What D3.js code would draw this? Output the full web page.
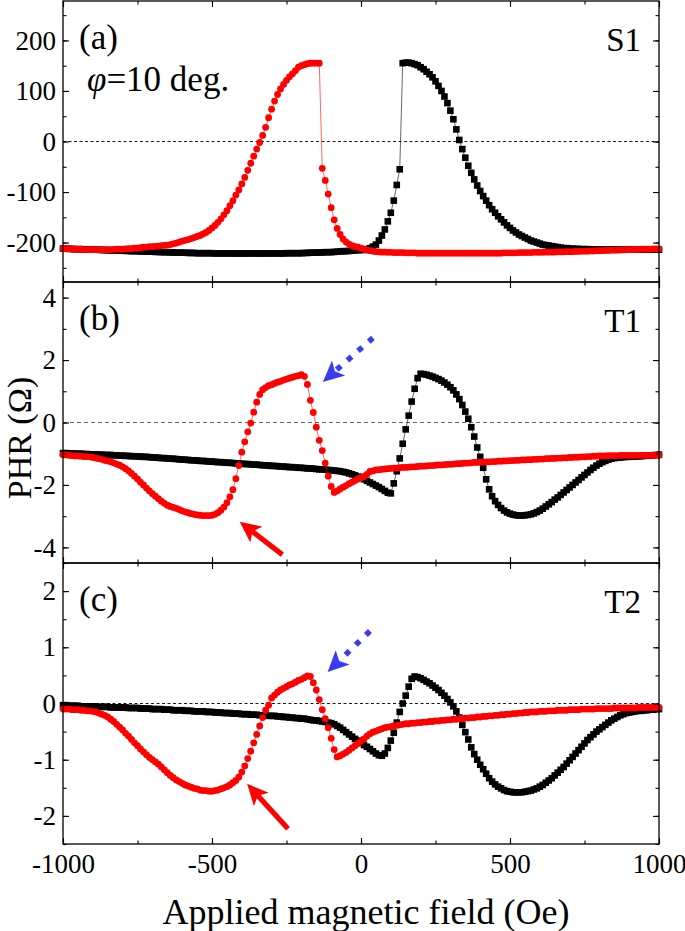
<!DOCTYPE html>
<html><head><meta charset="utf-8">
<script src="https://cdn.jsdelivr.net/npm/d3@7"></script>
<style>
body{margin:0;background:#fff}
svg{display:block}
svg text{font-family:'Liberation Serif','Times New Roman','DejaVu Serif',serif !important;fill:#000}
</style></head>
<body><svg id="chart" width="685" height="931"></svg>
<script>
// ---------------- DATA ----------------
// Applied field grid (Oe), 10 Oe steps from -1000 to 1000
const field = d3.range(-1000, 1001, 10);

const xTicks = [-1000, -500, 0, 500, 1000];
const aTicks = [-200, -100, 0, 100, 200];
const bTicks = [-4, -2, 0, 2, 4];
const cTicks = [-2, -1, 0, 1, 2];
const panelLabels = ["(a)", "(b)", "(c)"];
const sampleLabels = ["S1", "T1", "T2"];

// (a) S1 : black squares
const aBlack = [
-212,-212,-212.5,-212.5,-213,-213,-213,-213.5,-213.5,-214,
-214,-214,-214.5,-214.5,-215,-215,-215.5,-215.5,-216,-216,
-216,-216.5,-216.5,-217,-217,-217,-217.5,-217.5,-218,-218,
-218,-218.5,-218.5,-219,-219,-219,-219.5,-219.5,-220,-220,
-220,-220,-220.5,-220.5,-220.5,-221,-221,-221,-221,-221,
-221,-221.5,-221.5,-221.5,-221.5,-221.5,-221.5,-221.5,-221.5,-221.5,
-221.5,-221.5,-221.5,-221.5,-221.5,-221.5,-221.5,-221.5,-221.5,-221.5,
-221.5,-221.5,-221.5,-221.5,-221.5,-221,-221,-221,-221,-221,
-221,-220.5,-220.5,-220,-220,-220,-219.5,-219.5,-219,-219,
-219,-218.5,-218,-217.5,-217,-217,-216.5,-216,-215.5,-215,
-215,-214,-213,-211,-208,-204,-196,-186,-174,-158,
-141,-117,-86,-55,155,156,156,155,153,151,
147,143,138,133,127,119,110,100,89,76,
61,44,24,3,-15,-32,-48,-62,-75,-87,
-98,-108,-117,-126,-134,-141,-148,-154,-160,-166,
-171,-176,-180,-184,-187,-190,-193,-196,-198,-200,
-202,-204,-205,-206,-207,-208,-209,-210,-211,-211,
-212,-212,-212.5,-212.5,-213,-213,-213,-213.5,-213.5,-213.5,
-214,-214,-214,-214,-214,-214,-214,-214,-214,-214,
-214,-214,-214,-214,-214,-214,-214,-214,-214,-214,
-214];
// (a) S1 : red circles
const aRed = [
-212,-212,-212,-213,-213,-213,-213,-214,-214,-214,
-214,-214,-214,-214,-214,-214,-214,-213.5,-213,-213,
-213,-212.5,-212,-212,-211,-211,-210,-209,-209,-208,
-208,-207.5,-207,-206,-205.5,-205,-204,-202.5,-201,-199,
-197,-195.5,-194,-192,-190,-188,-186,-183,-180,-176,
-171,-166,-160,-153,-145,-137,-127,-117,-106,-96,
-84,-71,-57,-43,-29,-15,-2,12,28,47,
64,80,93,104,113,121,128,134,140,147,
150,152,154,155,155,155,155,-53,-77,-104,
-131,-155,-172,-184,-193,-199,-203,-206,-208,-209,
-211,-213,-215,-216,-217,-218,-218.5,-219,-219,-219.5,
-219.5,-220,-220,-220,-220,-220.5,-220.5,-220.5,-220.5,-221,
-221,-221,-221,-221,-221,-221,-221,-221,-221,-221,
-221,-221,-221,-221,-221,-221,-221,-221,-221,-221,
-221,-221,-221,-221,-221,-221,-221,-221,-220.5,-220.5,
-220.5,-220.5,-220.5,-220,-220,-220,-220,-220,-219.5,-219.5,
-219.5,-219.5,-219,-219,-219,-219,-218.5,-218.5,-218.5,-218,
-218,-218,-217.5,-217.5,-217,-217,-217,-216.5,-216.5,-216,
-216,-216,-215.5,-215.5,-215,-215,-215,-214.5,-214.5,-214,
-214,-214,-213.5,-213.5,-213,-213,-213,-213,-212.5,-212.5,
-212.5];

// (b) T1 : black squares
const bBlack = [
-0.98,-0.98,-0.99,-0.99,-1.0,-1.0,-1.0,-1.01,-1.01,-1.02,
-1.02,-1.02,-1.03,-1.03,-1.04,-1.04,-1.04,-1.05,-1.05,-1.06,
-1.06,-1.07,-1.07,-1.08,-1.08,-1.09,-1.09,-1.1,-1.1,-1.11,
-1.12,-1.12,-1.13,-1.14,-1.14,-1.15,-1.16,-1.16,-1.17,-1.18,
-1.19,-1.19,-1.2,-1.21,-1.21,-1.22,-1.23,-1.23,-1.24,-1.25,
-1.25,-1.26,-1.27,-1.27,-1.28,-1.29,-1.29,-1.3,-1.31,-1.31,
-1.32,-1.33,-1.33,-1.34,-1.35,-1.35,-1.36,-1.37,-1.37,-1.38,
-1.39,-1.39,-1.4,-1.41,-1.41,-1.42,-1.43,-1.43,-1.44,-1.45,
-1.45,-1.46,-1.47,-1.47,-1.48,-1.49,-1.5,-1.5,-1.51,-1.52,
-1.53,-1.54,-1.55,-1.56,-1.58,-1.6,-1.63,-1.66,-1.69,-1.73,
-1.77,-1.82,-1.87,-1.92,-1.97,-2.02,-2.07,-2.13,-2.19,-2.25,
-2.27,-1.95,-1.56,-1.15,-0.68,-0.22,0.22,0.67,1.08,1.42,
1.56,1.55,1.53,1.5,1.47,1.43,1.39,1.34,1.28,1.21,
1.13,1.03,0.9,0.75,0.56,0.35,0.12,-0.15,-0.45,-0.8,
-1.1,-1.45,-1.82,-2.14,-2.36,-2.52,-2.64,-2.74,-2.82,-2.88,
-2.92,-2.95,-2.97,-2.98,-2.98,-2.97,-2.96,-2.94,-2.91,-2.87,
-2.82,-2.76,-2.69,-2.62,-2.55,-2.47,-2.4,-2.32,-2.24,-2.16,
-2.08,-2.0,-1.92,-1.84,-1.76,-1.68,-1.6,-1.52,-1.45,-1.38,
-1.32,-1.27,-1.23,-1.19,-1.16,-1.14,-1.13,-1.12,-1.11,-1.1,
-1.1,-1.09,-1.09,-1.08,-1.08,-1.07,-1.06,-1.06,-1.05,-1.04,
-1.03];
// (b) T1 : red circles
const bRed = [
-1.03,-1.04,-1.05,-1.06,-1.07,-1.07,-1.08,-1.09,-1.09,-1.1,
-1.12,-1.14,-1.16,-1.18,-1.21,-1.23,-1.26,-1.29,-1.33,-1.37,
-1.42,-1.48,-1.55,-1.63,-1.72,-1.81,-1.91,-2.0,-2.1,-2.19,
-2.28,-2.36,-2.44,-2.52,-2.59,-2.65,-2.69,-2.72,-2.75,-2.79,
-2.83,-2.86,-2.89,-2.92,-2.94,-2.96,-2.97,-2.98,-2.98,-2.98,
-2.97,-2.94,-2.89,-2.81,-2.71,-2.57,-2.38,-2.15,-1.8,-1.38,
-0.95,-0.62,-0.3,-0.02,0.33,0.65,0.9,1.05,1.12,1.18,
1.21,1.25,1.29,1.32,1.36,1.39,1.42,1.45,1.48,1.5,
1.53,1.48,1.22,0.71,0.32,-0.15,-0.57,-0.9,-1.3,-1.72,
-2.05,-2.24,-2.19,-2.13,-2.07,-2.02,-1.96,-1.91,-1.86,-1.81,
-1.77,-1.73,-1.66,-1.57,-1.55,-1.52,-1.51,-1.5,-1.49,-1.48,
-1.47,-1.46,-1.46,-1.45,-1.44,-1.44,-1.43,-1.42,-1.42,-1.41,
-1.4,-1.4,-1.39,-1.38,-1.38,-1.37,-1.36,-1.36,-1.35,-1.34,
-1.34,-1.33,-1.32,-1.32,-1.31,-1.3,-1.3,-1.29,-1.28,-1.28,
-1.27,-1.27,-1.26,-1.26,-1.25,-1.25,-1.24,-1.24,-1.23,-1.23,
-1.22,-1.22,-1.21,-1.21,-1.2,-1.2,-1.19,-1.19,-1.18,-1.18,
-1.17,-1.17,-1.16,-1.16,-1.15,-1.15,-1.14,-1.14,-1.13,-1.13,
-1.12,-1.12,-1.11,-1.11,-1.1,-1.1,-1.09,-1.09,-1.08,-1.08,
-1.07,-1.07,-1.07,-1.06,-1.06,-1.06,-1.06,-1.05,-1.05,-1.05,
-1.05,-1.05,-1.05,-1.05,-1.05,-1.05,-1.05,-1.05,-1.05,-1.05,
-1.05];

// (c) T2 : black squares
const cBlack = [
-0.03,-0.03,-0.04,-0.04,-0.04,-0.04,-0.05,-0.05,-0.05,-0.05,
-0.05,-0.06,-0.06,-0.06,-0.06,-0.06,-0.07,-0.07,-0.07,-0.07,
-0.07,-0.07,-0.08,-0.08,-0.08,-0.08,-0.09,-0.09,-0.09,-0.09,
-0.1,-0.1,-0.1,-0.1,-0.11,-0.11,-0.11,-0.12,-0.12,-0.12,
-0.12,-0.13,-0.13,-0.13,-0.14,-0.14,-0.14,-0.14,-0.15,-0.15,
-0.15,-0.16,-0.16,-0.16,-0.17,-0.17,-0.17,-0.18,-0.18,-0.18,
-0.19,-0.19,-0.19,-0.2,-0.2,-0.2,-0.21,-0.21,-0.21,-0.22,
-0.22,-0.22,-0.23,-0.23,-0.24,-0.24,-0.25,-0.25,-0.26,-0.26,
-0.27,-0.27,-0.28,-0.29,-0.3,-0.3,-0.31,-0.32,-0.33,-0.34,
-0.35,-0.37,-0.4,-0.43,-0.47,-0.51,-0.55,-0.59,-0.63,-0.66,
-0.7,-0.74,-0.77,-0.81,-0.85,-0.89,-0.92,-0.93,-0.89,-0.79,
-0.66,-0.52,-0.34,-0.15,0.0,0.14,0.3,0.44,0.48,0.47,
0.45,0.42,0.39,0.36,0.32,0.28,0.24,0.19,0.14,0.08,
0.02,-0.05,-0.14,-0.25,-0.38,-0.51,-0.64,-0.78,-0.9,-1.0,
-1.09,-1.17,-1.25,-1.33,-1.39,-1.44,-1.48,-1.51,-1.54,-1.56,
-1.57,-1.58,-1.58,-1.58,-1.58,-1.57,-1.56,-1.55,-1.53,-1.51,
-1.48,-1.45,-1.41,-1.37,-1.33,-1.28,-1.23,-1.18,-1.13,-1.07,
-1.01,-0.95,-0.89,-0.83,-0.77,-0.71,-0.65,-0.6,-0.55,-0.5,
-0.46,-0.42,-0.38,-0.34,-0.3,-0.27,-0.24,-0.21,-0.19,-0.17,
-0.16,-0.15,-0.14,-0.13,-0.13,-0.12,-0.12,-0.11,-0.11,-0.1,
-0.1];
// (c) T2 : red circles
const cRed = [
-0.1,-0.1,-0.1,-0.11,-0.11,-0.11,-0.12,-0.12,-0.13,-0.13,
-0.14,-0.15,-0.17,-0.19,-0.21,-0.24,-0.28,-0.32,-0.37,-0.42,
-0.47,-0.53,-0.58,-0.64,-0.7,-0.75,-0.81,-0.86,-0.91,-0.96,
-1.0,-1.04,-1.08,-1.13,-1.18,-1.23,-1.28,-1.32,-1.36,-1.39,
-1.42,-1.45,-1.47,-1.49,-1.51,-1.52,-1.54,-1.55,-1.55,-1.56,
-1.56,-1.55,-1.54,-1.52,-1.5,-1.48,-1.45,-1.41,-1.37,-1.31,
-1.22,-1.11,-0.98,-0.85,-0.7,-0.55,-0.4,-0.25,-0.12,-0.03,
0.1,0.15,0.2,0.24,0.27,0.3,0.33,0.35,0.38,0.41,
0.43,0.46,0.49,0.48,0.37,0.24,0.07,-0.11,-0.27,-0.43,
-0.62,-0.82,-0.95,-0.93,-0.9,-0.87,-0.83,-0.79,-0.75,-0.71,
-0.67,-0.63,-0.58,-0.54,-0.51,-0.49,-0.47,-0.45,-0.43,-0.42,
-0.41,-0.4,-0.39,-0.38,-0.37,-0.36,-0.36,-0.35,-0.35,-0.34,
-0.34,-0.33,-0.33,-0.32,-0.32,-0.31,-0.31,-0.3,-0.3,-0.29,
-0.29,-0.28,-0.28,-0.27,-0.27,-0.26,-0.26,-0.25,-0.25,-0.24,
-0.24,-0.23,-0.23,-0.22,-0.22,-0.21,-0.21,-0.2,-0.2,-0.19,
-0.19,-0.18,-0.18,-0.17,-0.17,-0.16,-0.16,-0.15,-0.15,-0.15,
-0.14,-0.14,-0.14,-0.13,-0.13,-0.13,-0.12,-0.12,-0.12,-0.12,
-0.11,-0.11,-0.11,-0.11,-0.1,-0.1,-0.1,-0.1,-0.1,-0.09,
-0.09,-0.09,-0.09,-0.09,-0.09,-0.08,-0.08,-0.08,-0.08,-0.08,
-0.08,-0.08,-0.08,-0.07,-0.07,-0.07,-0.07,-0.07,-0.07,-0.07,
-0.07];

// annotation arrows (data coordinates: [field, PHR])
const redArrowFrom = [[-264, -4.23], [-245, -2.23]];
const redArrowTo   = [[-407, -3.18], [-382, -1.43]];
const blueArrowFrom = [[40, 2.71], [30, 1.29]];
const blueArrowTo   = [[-128, 1.30], [-112, 0.56]];

// ---------------- LAYOUT ----------------
const FONT = "'Liberation Serif','Times New Roman','DejaVu Serif',serif";
const svg = d3.select("#chart");
const L = 63, R = 659;
const panelTop = [1, 282, 563], panelH = 281;
const x = d3.scaleLinear().domain([-1000, 1000]).range([L, R]);

const panels = [
  {dom: [-278, 278], ticks: aTicks, minor: 50, black: aBlack, red: aRed},
  {dom: [-4.5, 4.5], ticks: bTicks, minor: 1, black: bBlack, red: bRed},
  {dom: [-2.5, 2.5], ticks: cTicks, minor: 0.5, black: cBlack, red: cRed}
];

const RED = "#ff0000", BLUE = "#3b3bf2";
const fmt = d => String(d);
const xMinor = d3.range(-1000, 1001, 250);

panels.forEach((p, i) => {
  const top = panelTop[i], bot = top + panelH;
  const y = d3.scaleLinear().domain(p.dom).range([bot, top]);
  const g = svg.append("g");
  const minorY = d3.range(Math.ceil(p.dom[0] / p.minor) * p.minor, p.dom[1] + 1e-9, p.minor);

  // zero dashed line
  g.append("line").attr("x1", L).attr("x2", R).attr("y1", y(0)).attr("y2", y(0))
    .attr("stroke", i === 1 ? "#555" : "#000").attr("stroke-width", 0.9)
    .attr("stroke-dasharray", i === 1 ? "4,3" : "3,2.5");

  // series
  const line = d3.line().x((d, k) => x(field[k])).y(d => y(d));
  g.append("path").attr("d", line(p.black)).attr("fill", "none").attr("stroke", "#000").attr("stroke-width", 0.6);
  g.selectAll(".sq").data(p.black).join("rect")
    .attr("x", (d, k) => x(field[k]) - 3.3).attr("y", d => y(d) - 3.3)
    .attr("width", 6.6).attr("height", 6.6).attr("fill", "#000");
  g.append("path").attr("d", line(p.red)).attr("fill", "none").attr("stroke", RED).attr("stroke-width", 0.6);
  g.selectAll(".ci").data(p.red).join("circle")
    .attr("cx", (d, k) => x(field[k])).attr("cy", d => y(d)).attr("r", 3.4).attr("fill", RED);

  // axes
  const styleAxis = a => { a.attr("font-family", FONT); a.select(".domain").remove(); a.selectAll(".tick line").attr("stroke", "#000").attr("stroke-width", 1.1); };
  const left = g.append("g").attr("transform", `translate(${L},0)`)
    .call(d3.axisLeft(y).tickValues(p.ticks).tickSize(-6).tickPadding(7).tickFormat(fmt));
  styleAxis(left);
  left.attr("font-size", 27);
  g.append("g").attr("transform", `translate(${L},0)`)
    .call(d3.axisLeft(y).tickValues(minorY).tickSize(-3.5).tickFormat("")).call(styleAxis);
  g.append("g").attr("transform", `translate(${R},0)`)
    .call(d3.axisRight(y).tickValues(p.ticks).tickSize(-6).tickFormat("")).call(styleAxis);
  g.append("g").attr("transform", `translate(${R},0)`)
    .call(d3.axisRight(y).tickValues(minorY).tickSize(-3.5).tickFormat("")).call(styleAxis);
  g.append("g").attr("transform", `translate(0,${top})`)
    .call(d3.axisTop(x).tickValues(xTicks).tickSize(-6).tickFormat("")).call(styleAxis);
  g.append("g").attr("transform", `translate(0,${top})`)
    .call(d3.axisTop(x).tickValues(xMinor).tickSize(-3.5).tickFormat("")).call(styleAxis);
  const bottom = g.append("g").attr("transform", `translate(0,${bot})`)
    .call(d3.axisBottom(x).tickValues(xTicks).tickSize(-6).tickPadding(10).tickFormat(i === 2 ? fmt : ""));
  styleAxis(bottom);
  bottom.attr("font-size", 27);
  g.append("g").attr("transform", `translate(0,${bot})`)
    .call(d3.axisBottom(x).tickValues(xMinor).tickSize(-3.5).tickFormat("")).call(styleAxis);

  // frame
  g.append("rect").attr("x", L).attr("y", top).attr("width", R - L).attr("height", panelH)
    .attr("fill", "none").attr("stroke", "#000").attr("stroke-width", 1.3);

  // labels
  g.append("text").attr("x", 79).attr("y", top + 48).attr("font-size", 35).attr("font-family", FONT).text(panelLabels[i]);
  g.append("text").attr("x", 641).attr("y", top + 50).attr("font-size", 33).attr("font-family", FONT)
    .attr("text-anchor", "end").text(sampleLabels[i]);

  // arrows for (b) and (c)
  if (i > 0) {
    const toPx = d => [x(d[0]), y(d[1])];
    drawArrow(svg, toPx(redArrowFrom[i - 1]), toPx(redArrowTo[i - 1]), RED, false);
    drawArrow(svg, toPx(blueArrowFrom[i - 1]), toPx(blueArrowTo[i - 1]), BLUE, true);
  }
});

function drawArrow(sel, p0, p1, color, dotted) {
  const dx = p1[0] - p0[0], dy = p1[1] - p0[1], len = Math.hypot(dx, dy);
  const ux = dx / len, uy = dy / len, nx = -uy, ny = ux;
  const HL = 21, HW = 10, notch = 5;
  const bx = p1[0] - ux * (HL - notch), by = p1[1] - uy * (HL - notch);
  const ln = sel.append("line").attr("x1", p0[0]).attr("y1", p0[1]).attr("x2", bx).attr("y2", by)
    .attr("stroke", color).attr("stroke-width", dotted ? 5.6 : 5.2);
  if (dotted) ln.attr("stroke-dasharray", "5.6,8.6");
  sel.append("path").attr("fill", color).attr("d",
    `M${p1[0]},${p1[1]}L${p1[0] - ux * HL + nx * HW},${p1[1] - uy * HL + ny * HW}` +
    `L${bx},${by}L${p1[0] - ux * HL - nx * HW},${p1[1] - uy * HL - ny * HW}Z`);
}

// phi annotation
const phi = svg.append("text").attr("x", 87).attr("y", 91).attr("font-size", 35).attr("font-family", FONT);
phi.append("tspan").attr("font-style", "italic").text("φ");
phi.append("tspan").text("=10 deg.");

// axis titles
svg.append("text").attr("transform", "translate(30.5,438) rotate(-90)").attr("text-anchor", "middle")
  .attr("font-size", 34).attr("font-family", FONT).text("PHR (Ω)");
svg.append("text").attr("x", 366).attr("y", 924).attr("text-anchor", "middle")
  .attr("font-size", 36).attr("font-family", FONT).text("Applied magnetic field (Oe)");
</script></body></html>
